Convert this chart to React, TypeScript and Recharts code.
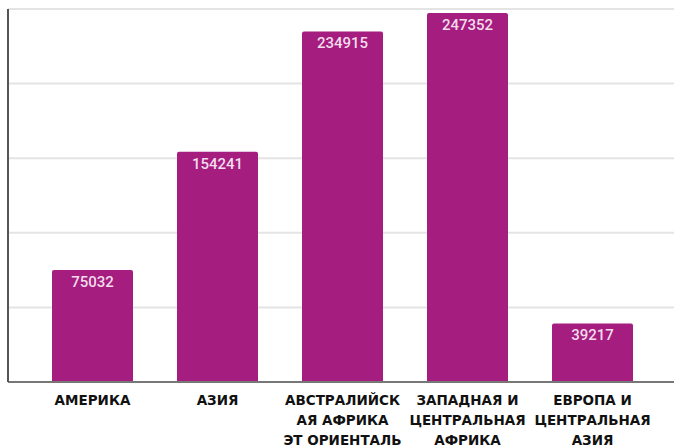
import { Bar, BarChart, CartesianGrid, LabelList, XAxis, YAxis } from "recharts";

const regions = [
  "АМЕРИКА",
  "АЗИЯ",
  "АВСТРАЛИЙСК\nАЯ АФРИКА\nЭТ ОРИЕНТАЛЬ",
  "ЗАПАДНАЯ И\nЦЕНТРАЛЬНАЯ\nАФРИКА",
  "ЕВРОПА И\nЦЕНТРАЛЬНАЯ\nАЗИЯ",
];
const totals = [75032, 154241, 234915, 247352, 39217];
const yTicks = [0, 50000, 100000, 150000, 200000, 250000];

const data = regions.map((name, i) => ({ name, value: totals[i] }));

function RegionTick({ x, y, payload }: any) {
  const lines = String(payload.value).split("\n");
  return (
    <text
      x={x}
      y={y + 15}
      textAnchor="middle"
      fill="#111"
      fontFamily="'DejaVu Sans', sans-serif"
      fontWeight={700}
      fontSize={13.5}
    >
      {lines.map((line, i) => (
        <tspan key={i} x={x} dy={i === 0 ? 0 : 20}>
          {line}
        </tspan>
      ))}
    </text>
  );
}

// y ticks drive the gridlines but carry no visible label
const NoTick = () => <g />;

export default function App() {
  return (
    <div style={{ position: "absolute", left: 0, top: 0, background: "#fff" }}>
      <BarChart width={674} height={448} data={data} margin={{ top: 9, right: 0, bottom: 6, left: 0 }}>
        <CartesianGrid vertical={false} stroke="#e4e4e4" strokeWidth={2} />
        <XAxis
          dataKey="name"
          interval={0}
          height={60}
          padding={{ left: 22, right: 19 }}
          tickLine={false}
          axisLine={{ stroke: "#777", strokeWidth: 2 }}
          tick={<RegionTick />}
        />
        <YAxis
          width={8}
          domain={[0, 250000]}
          ticks={yTicks}
          interval={0}
          tick={<NoTick />}
          tickLine={false}
          axisLine={{ stroke: "#555", strokeWidth: 2 }}
        />
        <Bar dataKey="value" fill="#a51d7f" barSize={81} radius={[2, 2, 0, 0]} isAnimationActive={false}>
          <LabelList
            dataKey="value"
            position="insideTop"
            offset={6}
            fill="#f3dcec"
            fontFamily="Roboto, sans-serif"
            fontWeight={500}
            fontSize={15}
          />
        </Bar>
      </BarChart>
    </div>
  );
}
